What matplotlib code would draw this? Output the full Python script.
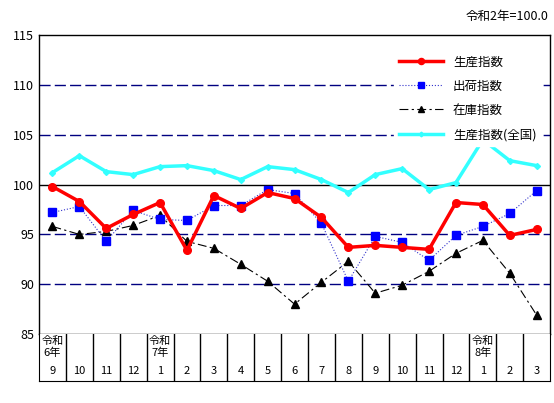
import matplotlib
matplotlib.use('Agg')
import matplotlib.pyplot as plt

plt.rcParams['font.family'] = ['Noto Sans CJK JP', 'DejaVu Sans']

months = ['9', '10', '11', '12', '1', '2', '3', '4', '5', '6', '7', '8', '9', '10', '11', '12', '1', '2', '3']
year_labels = {0: '令和\n6年', 4: '令和\n7年', 16: '令和\n8年'}
production = [99.8, 98.3, 95.6, 97.0, 98.2, 93.4, 98.9, 97.6, 99.2, 98.6, 96.7, 93.7, 93.9, 93.7, 93.5, 98.2, 98.0, 94.9, 95.5]
shipment = [97.2, 97.8, 94.3, 97.4, 96.5, 96.4, 97.9, 97.9, 99.5, 99.1, 96.1, 90.3, 94.8, 94.2, 92.4, 94.9, 95.8, 97.1, 99.4]
inventory = [95.8, 95.0, 95.3, 95.9, 96.9, 94.3, 93.6, 92.0, 90.3, 88.0, 90.2, 92.3, 89.1, 89.9, 91.3, 93.1, 94.4, 91.1, 86.9]
national = [101.2, 102.9, 101.3, 101.0, 101.8, 101.9, 101.4, 100.5, 101.8, 101.5, 100.5, 99.2, 101.0, 101.6, 99.5, 100.2, 104.5, 102.4, 101.9]

n = len(months)
x = list(range(n))

fig = plt.figure(figsize=(5.54, 4.03), dpi=100)
ax = fig.add_axes([0.0704, 0.171, 0.9226, 0.742])
tax = fig.add_axes([0.0704, 0.0546, 0.9226, 0.1164])

# grid lines
for y in [90, 95, 105, 110]:
    ax.axhline(y, color='#000080', ls=(0, (8, 3)), lw=1, zorder=1)
ax.axhline(100, color='black', lw=1, zorder=1)

ax.plot(x, national, color='#33FFFF', lw=2.5, marker='D', ms=3, label='生産指数(全国)', zorder=2)
ax.plot(x, inventory, color='black', lw=0.8, ls=(0, (8, 3, 2, 3)), marker='^', ms=5.5, label='在庫指数', zorder=3)
ax.plot(x, shipment, color='#3333CC', lw=0.8, ls=':', marker='s', ms=5.5, mfc='#0000FF', mec='#0000FF', label='出荷指数', zorder=4)
ax.plot(x, production, color='#FF0000', lw=2.5, marker='o', ms=5.5, label='生産指数', zorder=5)

ax.set_xlim(-0.5, n - 0.5)
ax.set_ylim(85, 115)
ax.set_yticks(range(85, 116, 5))
ax.set_xticks([])
ax.tick_params(axis='y', length=0, labelsize=9)
for s in ax.spines.values():
    s.set_linewidth(1)

h, l = ax.get_legend_handles_labels()
order = [3, 2, 1, 0]
leg = ax.legend([h[i] for i in order], [l[i] for i in order], loc='upper right',
                bbox_to_anchor=(0.995, 0.97), frameon=True, fancybox=False,
                edgecolor='white', framealpha=1, fontsize=9, handlelength=3.5,
                labelspacing=0.9, markerscale=0.8)

# bottom table
tax.set_xlim(-0.5, n - 0.5)
tax.set_ylim(0, 1)
tax.set_xticks([])
tax.set_yticks([])
for i in range(1, n):
    tax.axvline(i - 0.5, color='black', lw=1)
for i, m in enumerate(months):
    tax.text(i, 0.1, m, ha='center', va='bottom', fontsize=8)
    if i in year_labels:
        tax.text(i, 0.95, year_labels[i], ha='center', va='top', fontsize=8, linespacing=1.1)
tax.spines['top'].set_visible(False)

fig.text(0.99, 0.975, '令和2年=100.0', ha='right', va='top', fontsize=9)

fig.savefig('out.png', dpi=100)
